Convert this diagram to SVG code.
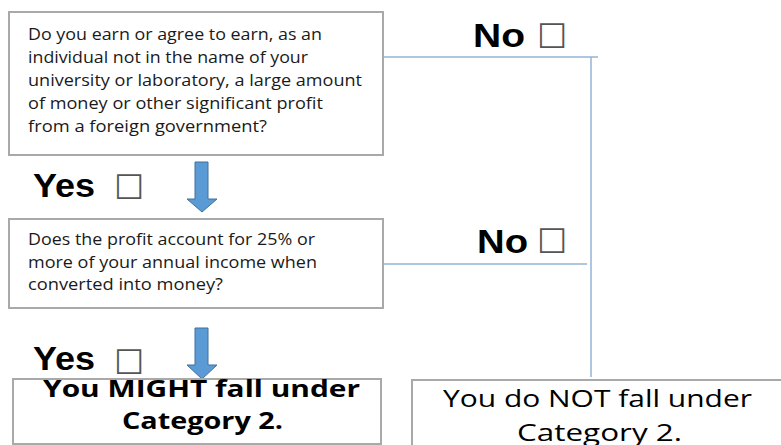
<svg xmlns="http://www.w3.org/2000/svg" width="781" height="445" viewBox="0 0 781 445">
<style>
.box{fill:#fff;stroke:#a9a9a9;stroke-width:2}
.q{font-family:"Open Sans","Liberation Sans",sans-serif;fill:#1a1a1a}
.lbl{font-family:"Liberation Sans",Arial,sans-serif;font-weight:bold;font-size:34px;fill:#000}
.chk{font-family:"DejaVu Sans",sans-serif;font-size:34px;fill:#555}
.conn{stroke:#95b3d7;stroke-width:1.5;fill:none}
.arrow{fill:#5b9bd5;stroke:#41719c;stroke-width:1}
.res{font-family:"Open Sans","Liberation Sans",sans-serif;fill:#000;text-anchor:start}
</style>
<g id="connectors">
<path class="conn" d="M383 57 H598"/>
<path class="conn" d="M591 57 V377"/>
<path class="conn" d="M384 264 H587"/>
<path class="arrow" d="M195 162 H208 V199 H217 L202 212 L187 199 H195 Z"/>
<path class="arrow" d="M195 328 H208 V365 H217 L202 379 L187 365 H195 Z"/>
</g>
<g id="q1">
<rect class="box" x="9" y="12" width="374" height="143"/>
<g class="q" font-size="17">
<text x="28" y="40" textLength="294" lengthAdjust="spacingAndGlyphs">Do you earn or agree to earn, as an</text>
<text x="28" y="63" textLength="280" lengthAdjust="spacingAndGlyphs">individual not in the name of your</text>
<text x="28" y="86" textLength="334" lengthAdjust="spacingAndGlyphs">university or laboratory, a large amount</text>
<text x="28" y="109" textLength="295" lengthAdjust="spacingAndGlyphs">of money or other significant profit</text>
<text x="28" y="132" textLength="239" lengthAdjust="spacingAndGlyphs">from a foreign government?</text>
</g>
</g>
<g id="no1">
<text class="lbl" x="473" y="47" textLength="52" lengthAdjust="spacingAndGlyphs">No</text>
<text class="chk" x="537" y="48">☐</text>
</g>
<g id="yes1">
<text class="lbl" x="33" y="197" textLength="62" lengthAdjust="spacingAndGlyphs">Yes</text>
<text class="chk" x="114" y="199">☐</text>
</g>
<g id="q2">
<rect class="box" x="9" y="219" width="374" height="89"/>
<g class="q" font-size="15.5">
<text x="28" y="245" textLength="287" lengthAdjust="spacingAndGlyphs">Does the profit account for 25% or</text>
<text x="28" y="268" textLength="289" lengthAdjust="spacingAndGlyphs">more of your annual income when</text>
<text x="28" y="290" textLength="195" lengthAdjust="spacingAndGlyphs">converted into money?</text>
</g>
</g>
<g id="no2">
<text class="lbl" x="477" y="253" textLength="51" lengthAdjust="spacingAndGlyphs">No</text>
<text class="chk" x="537" y="253">☐</text>
</g>
<g id="yes2">
<text class="lbl" x="33" y="370" textLength="62" lengthAdjust="spacingAndGlyphs">Yes</text>
<text class="chk" x="114" y="374">☐</text>
</g>
<g id="might">
<rect class="box" x="13" y="379" width="368" height="65"/>
<text class="res" x="43" y="397" font-size="23" font-weight="bold" textLength="317" lengthAdjust="spacingAndGlyphs">You MIGHT fall under</text>
<text class="res" x="122" y="429" font-size="23" font-weight="bold" textLength="161" lengthAdjust="spacingAndGlyphs">Category 2.</text>
</g>
<g id="not">
<rect class="box" x="412" y="380" width="380" height="80"/>
<text class="res" x="443" y="407" font-size="24" textLength="309" lengthAdjust="spacingAndGlyphs">You do NOT fall under</text>
<text class="res" x="517" y="441" font-size="24" textLength="165" lengthAdjust="spacingAndGlyphs">Category 2.</text>
</g>
</svg>
